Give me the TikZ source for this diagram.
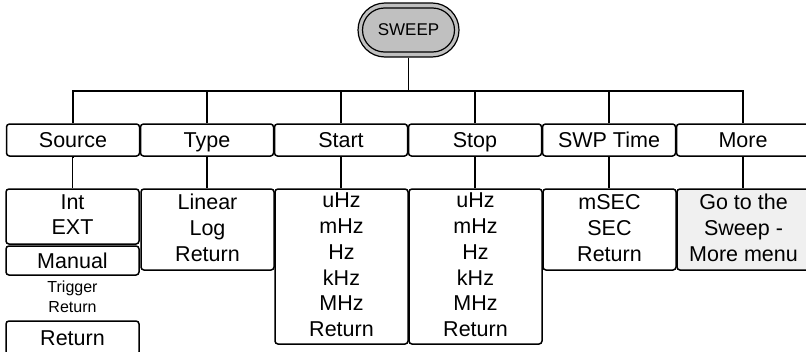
\documentclass[tikz,border=0pt]{standalone}
\usepackage{fontspec}
\setmainfont{Liberation Sans}
\definecolor{pillgray}{HTML}{C0C0C0}
\definecolor{moregray}{HTML}{F0F0F0}
\newcommand{\topstrut}{\rule{0pt}{19pt}}
\newcommand{\botstrut}{\rule[-3.6pt]{0pt}{3.6pt}}
\begin{document}
\begin{tikzpicture}[x=1pt,y=-1pt,
  menubox/.style={draw, line width=1.5pt, rounded corners=3pt, minimum width=133pt,
    inner sep=0pt, align=center, font=\fontsize{21.5}{25.8}\selectfont,
    execute at begin node=\topstrut, execute at end node=\botstrut},
  wire/.style={line width=1.5pt},
  small/.style={align=center, inner sep=0pt, font=\fontsize{16}{19.5}\selectfont}]
\useasboundingbox (0,0) rectangle (806,351);
\clip (0,0) rectangle (806,351);
% SWEEP pill
\node[draw, line width=1.2pt, fill=pillgray, rounded corners=27pt, minimum width=101pt, minimum height=54pt] (sweep) at (408.5,30) {};
\node[draw, line width=1.2pt, rounded corners=22pt, minimum width=92pt, minimum height=44pt, font=\fontsize{17}{20}\selectfont] (sweepin) at (408.5,30) {SWEEP};
% top row
\node[menubox, minimum height=32pt] (src)  at (73,140)  {Source};
\node[menubox, minimum height=32pt] (type) at (207,140) {Type};
\node[menubox, minimum height=32pt] (start) at (341,140) {Start};
\node[menubox, minimum height=32pt] (stop) at (475,140) {Stop};
\node[menubox, minimum height=32pt] (swp)  at (609,140) {SWP Time};
\node[menubox, minimum height=32pt] (more) at (743,140) {More};
% lower row
\node[menubox, minimum height=55pt] (srcl) at (72.5,216.5) {Int\\EXT};
\node[menubox, minimum height=29pt] (manual) at (72.5,260.5) {Manual};
\node[small] (trig) at (72.5,297) {Trigger\\Return};
\node[menubox, minimum height=34pt] (ret) at (72.5,338) {Return};
\node[menubox, minimum height=81pt] (typel) at (207.5,229.5) {Linear\\Log\\Return};
\node[menubox, minimum height=155pt] (startl) at (341.5,266.5) {uHz\\mHz\\Hz\\kHz\\MHz\\Return};
\node[menubox, minimum height=155pt] (stopl) at (475.5,266.5) {uHz\\mHz\\Hz\\kHz\\MHz\\Return};
\node[menubox, minimum height=81pt] (swpl) at (609.5,229.5) {mSEC\\SEC\\Return};
\node[menubox, minimum height=81pt, fill=moregray] (morel) at (743.5,229.5) {Go to the\\Sweep -\\More menu};
% connectors
\coordinate (bus) at (0,91);
\draw[wire] (sweep.south) -- (sweep.south |- bus);
\draw[wire] (src.north) -- (src.north |- bus) -- (more.north |- bus) -- (more.north);
\foreach \n in {type,start,stop,swp} \draw[wire] (\n.north) -- (\n.north |- bus);
\draw[wire] (src.south) -- (src.south -| srcl.north) -- (srcl.north);
\draw[wire] (type.south) -- (typel.north -| type.south);
\draw[wire] (start.south) -- (startl.north -| start.south);
\draw[wire] (stop.south) -- (stopl.north -| stop.south);
\draw[wire] (swp.south) -- (swpl.north -| swp.south);
\draw[wire] (more.south) -- (morel.north -| more.south);
\end{tikzpicture}
\end{document}
